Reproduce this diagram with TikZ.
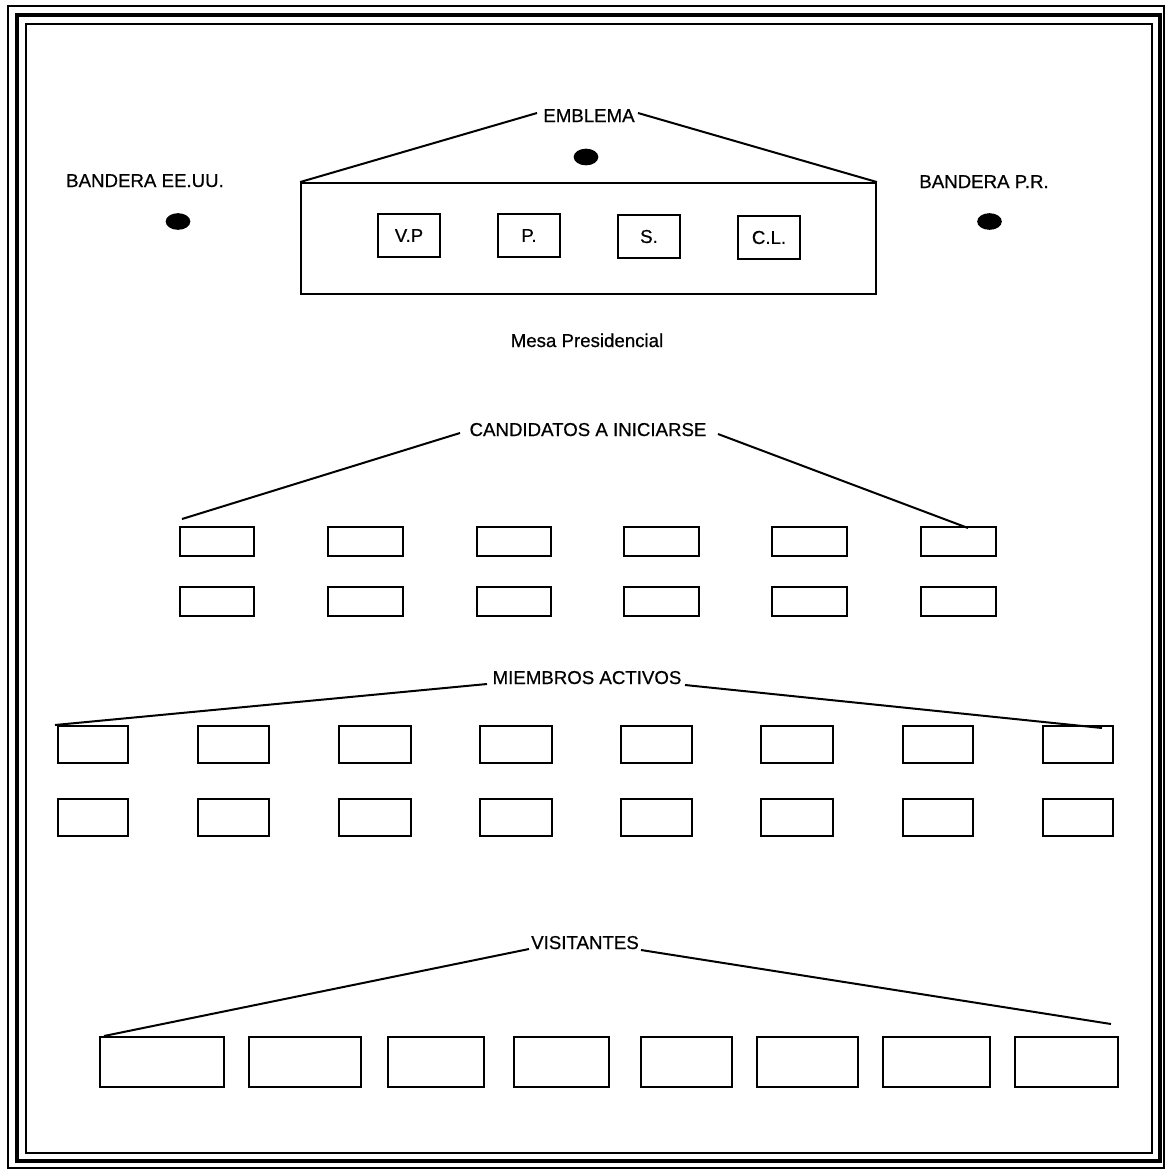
\documentclass[tikz,border=0pt]{standalone}
\usepackage{fontspec}
\setmainfont[FakeBold=0.8]{Liberation Sans}
\newfontfamily\scanfont[FakeBold=0.6]{Liberation Sans}
\usetikzlibrary{fit,shapes.geometric}
\begin{document}
\begin{tikzpicture}[x=0.75pt,y=-0.75pt,
  seat/.style={draw, line width=1.4pt, inner sep=0pt},
  lbl/.style={font=\scanfont\fontsize{14}{16}\selectfont, inner sep=0pt, anchor=base},
  inlbl/.style={font=\scanfont\fontsize{14}{16}\selectfont, inner sep=0pt, anchor=center},
  dot/.style={ellipse, fill=black, minimum width=18.5pt, minimum height=12.5pt, inner sep=0pt},
  conn/.style={line width=1.5pt}]
\useasboundingbox (0,0) rectangle (1165,1172);
% frame
\draw[line width=1.1pt] (8,6) rectangle (1164,1168);
\draw[line width=2.4pt] (17,15) rectangle (1160,1161);
\draw[line width=1.5pt] (26,24) rectangle (1152,1153);

% flags
\node[lbl] (flagUS) at (145,187) {BANDERA EE.UU.};
\node[dot] (dotUS) at (178,221.5) {};
\node[lbl] (flagPR) at (984,188) {BANDERA P.R.};
\node[dot] (dotPR) at (989.5,221.5) {};

% presidential table
\node[seat, fit={(301,183) (876,294)}] (mesa) {};
\node[lbl] (emb) at (589,122) {EMBLEMA};
\coordinate (embL) at (537,113);
\coordinate (embR) at (638,113);
\draw[conn] (mesa.north west) -- (embL);
\draw[conn] (embR) -- (mesa.north east);
\node[dot] (dotE) at (586,157) {};
\node[seat, fit={(378,214) (440,257)}] (vp) {};
\node[seat, fit={(498,214) (560,257)}] (pr) {};
\node[seat, fit={(618,215) (680,258)}] (se) {};
\node[seat, fit={(738,216) (800,259)}] (cl) {};
\node[inlbl] (vpT) at (vp.center) {V.P};
\node[inlbl] (prT) at (pr.center) {P.};
\node[inlbl] (seT) at (se.center) {S.};
\node[inlbl] (clT) at (cl.center) {C.L.};
\node[lbl] (mesaT) at (587,347) {Mesa Presidencial};

% candidates
\node[lbl] (cand) at (588,436) {CANDIDATOS A INICIARSE};
\foreach \i/\a/\b in {1/180/254,2/328/403,3/477/551,4/624/699,5/772/847,6/921/996}{
  \node[seat, fit={(\a,527) (\b,556)}] (ca\i) {};
  \node[seat, fit={(\a,587) (\b,616)}] (cb\i) {};
}
\coordinate (candL0) at (182,519);
\coordinate (candL1) at (460,433);
\coordinate (candR1) at (718,434);
\coordinate (candR0) at (968,528);
\draw[conn] (candL0) -- (candL1);
\draw[conn] (candR1) -- (candR0);

% active members
\node[lbl] (miem) at (587,684) {MIEMBROS ACTIVOS};
\foreach \i/\a/\b in {1/58/128,2/198/269,3/339/411,4/480/552,5/621/692,6/761/833,7/903/973,8/1043/1113}{
  \node[seat, fit={(\a,726) (\b,763)}] (ma\i) {};
  \node[seat, fit={(\a,799) (\b,836)}] (mb\i) {};
}
\coordinate (miemL0) at (55,725);
\coordinate (miemL1) at (487,684);
\coordinate (miemR1) at (685,685);
\coordinate (miemR0) at (1102,728);
\draw[conn] (miemL0) -- (miemL1);
\draw[conn] (miemR1) -- (miemR0);

% visitors
\node[lbl] (visi) at (585,949) {VISITANTES};
\foreach \i/\a/\b in {1/100/224,2/249/361,3/388/484,4/514/609,5/641/732,6/757/858,7/883/990,8/1015/1118}{
  \node[seat, fit={(\a,1037) (\b,1087)}] (v\i) {};
}
\coordinate (visiL0) at (104,1036);
\coordinate (visiL1) at (529,949);
\coordinate (visiR1) at (641,950);
\coordinate (visiR0) at (1111,1024);
\draw[conn] (visiL0) -- (visiL1);
\draw[conn] (visiR1) -- (visiR0);
\end{tikzpicture}
\end{document}
